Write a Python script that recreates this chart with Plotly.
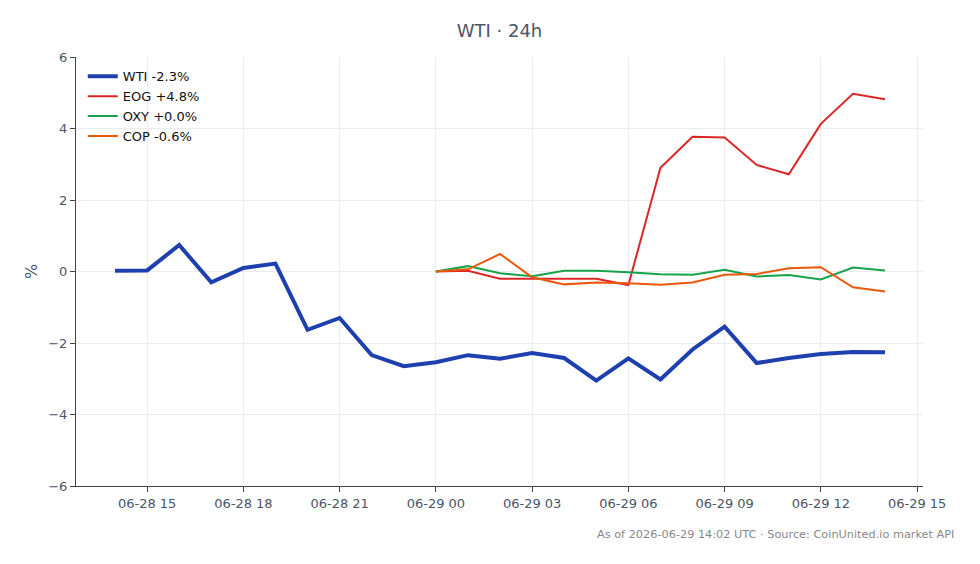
import plotly.graph_objects as go
import pandas as pd

wti_times = pd.date_range("2026-06-28 14:00", "2026-06-29 14:00", freq="h")
wti = [0.02, 0.03, 0.74, -0.30, 0.10, 0.22, -1.63, -1.30, -2.34, -2.65, -2.54,
       -2.34, -2.44, -2.28, -2.42, -3.05, -2.43, -3.02, -2.18, -1.54, -2.56,
       -2.42, -2.31, -2.25, -2.26]

stock_times = pd.date_range("2026-06-29 00:00", "2026-06-29 14:00", freq="h")
eog = [0.0, 0.02, -0.20, -0.20, -0.20, -0.20, -0.38, 2.90, 3.77, 3.75, 2.98,
       2.72, 4.13, 4.97, 4.82]
oxy = [0.0, 0.15, -0.05, -0.13, 0.02, 0.02, -0.02, -0.08, -0.09, 0.05, -0.14,
       -0.10, -0.22, 0.11, 0.03]
cop = [0.0, 0.06, 0.49, -0.16, -0.36, -0.31, -0.33, -0.37, -0.31, -0.09, -0.07,
       0.09, 0.12, -0.44, -0.56]

names = ["WTI -2.3%", "EOG +4.8%", "OXY +0.0%", "COP -0.6%"]
colors = ["#1e40af", "#dc2626", "#16a34a", "#ea580c"]
widths = [4, 2, 2, 2]

fig = go.Figure()
series = [(wti_times, wti), (stock_times, eog), (stock_times, oxy), (stock_times, cop)]
for (t, v), n, c, w in zip(series, names, colors, widths):
    fig.add_trace(go.Scatter(x=t, y=v, mode="lines", name=n,
                             line=dict(color=c, width=w)))

fig.add_shape(type="line", xref="paper", x0=0, x1=1, yref="y", y0=0, y1=0,
              line=dict(color="#94a3b8", width=1, dash="dash"), layer="below")

font_family = "DejaVu Sans"
fig.update_layout(
    width=980, height=564,
    margin=dict(l=76, r=57, t=57, b=78),
    paper_bgcolor="white", plot_bgcolor="white",
    font=dict(family=font_family, size=13, color="#4a5568"),
    title=dict(text="WTI · 24h", x=0.5, xref="paper", y=0.945, yanchor="middle",
               font=dict(size=18, color="#4a5568")),
    showlegend=True,
    legend=dict(x=0.008, y=0.99, xanchor="left", yanchor="top",
                bgcolor="rgba(255,255,255,0)", font=dict(size=13, color="#111"),
                tracegroupgap=0),
    xaxis=dict(
        range=[pd.Timestamp("2026-06-28 12:47"), pd.Timestamp("2026-06-29 15:11")],
        tickformat="%m-%d %H", dtick=3 * 3600 * 1000,
        tick0="2026-06-28 00:00",
        showgrid=True, gridcolor="#ececec", showline=True, linecolor="#444",
        ticks="outside", ticklen=5, tickcolor="#444", zeroline=False,
    ),
    yaxis=dict(
        range=[-6, 6], dtick=2, showgrid=True, gridcolor="#ececec",
        showline=True, linecolor="#444", ticks="outside", ticklen=5,
        tickcolor="#444", zeroline=False,
        title=dict(text="%", standoff=6),
    ),
    annotations=[dict(text="As of 2026-06-29 14:02 UTC · Source: CoinUnited.io market API",
                      xref="paper", yref="paper", x=1.039, y=-0.112,
                      xanchor="right", yanchor="middle", showarrow=False,
                      font=dict(size=11.3, color="#888"))],
)

fig.write_html("out.html")
